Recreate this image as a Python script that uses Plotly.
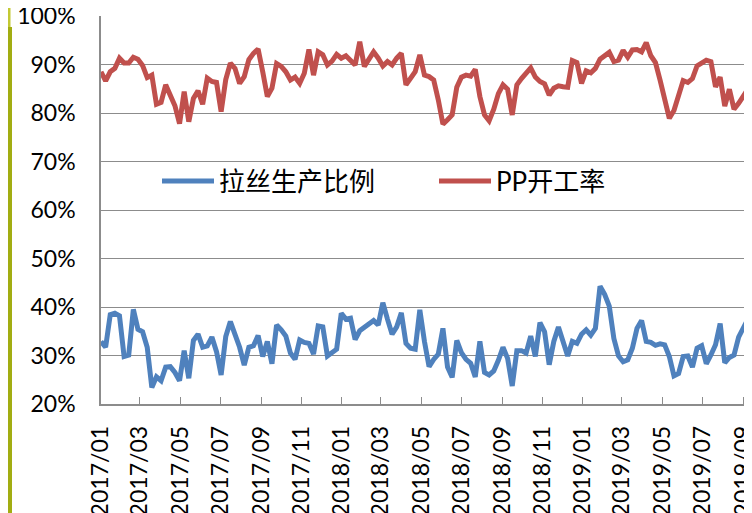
import pandas as pd
import plotly.graph_objects as go

# weekly observation dates (category axis)
dates = pd.date_range("2017-01-01", periods=142, freq="7D")

series_names = ["拉丝生产比例", "PP开工率"]

lasi_ratio = [
    32.9, 31.7, 38.4, 38.7, 38.2, 29.8, 30.1, 39.5, 35.4, 34.9,
    31.7, 23.4, 25.6, 24.8, 27.6, 27.7, 26.5, 24.8, 31.0, 25.3,
    33.1, 34.4, 31.7, 32.0, 33.8, 30.8, 26.0, 33.9, 37.0, 34.2,
    31.7, 28.0, 31.7, 32.0, 34.1, 29.8, 32.9, 28.3, 36.3, 35.3,
    34.0, 30.5, 29.2, 33.2, 32.7, 32.5, 30.3, 36.1, 35.9, 29.9,
    30.6, 31.3, 38.7, 37.5, 37.7, 33.3, 35.1, 35.9, 36.5, 37.2,
    36.3, 40.9, 37.5, 34.4, 35.9, 38.8, 32.5, 31.5, 31.3, 39.4,
    32.9, 27.7, 29.2, 30.3, 35.6, 27.6, 25.5, 33.1, 30.6, 29.2,
    28.4, 25.6, 32.9, 26.5, 26.0, 26.8, 29.0, 31.7, 29.4, 23.7,
    31.0, 31.0, 30.5, 34.0, 29.8, 36.8, 34.9, 28.1, 32.9, 35.9,
    32.9, 29.9, 32.9, 32.5, 34.4, 35.3, 34.2, 35.6, 44.3, 42.6,
    40.2, 33.5, 29.9, 28.7, 29.1, 31.5, 35.6, 37.2, 32.9, 32.7,
    32.1, 32.4, 32.2, 29.8, 25.8, 26.3, 29.8, 29.9, 27.6, 31.5,
    32.0, 28.3, 30.1, 32.2, 36.6, 28.5, 29.6, 30.1, 33.8, 35.8,
    37.5, 21.5,
]

pp_rate = [
    88.5, 86.6, 88.5, 89.2, 91.3, 90.3, 90.3, 91.5, 91.1, 89.8,
    87.3, 87.8, 81.8, 82.2, 85.8, 83.4, 81.5, 77.8, 84.4, 78.2,
    83.0, 84.6, 81.8, 87.2, 86.5, 86.3, 80.3, 86.9, 90.3, 89.2,
    86.1, 87.5, 91.0, 92.3, 93.2, 88.5, 83.4, 85.1, 90.2, 89.6,
    88.5, 86.8, 87.4, 86.1, 88.2, 93.1, 87.8, 92.6, 92.0, 89.9,
    90.7, 92.1, 91.3, 91.8, 90.8, 89.9, 94.7, 89.6, 91.1, 92.6,
    91.3, 89.7, 90.6, 89.9, 91.3, 92.3, 85.8, 87.1, 88.5, 92.0,
    87.8, 87.5, 86.8, 82.7, 77.7, 78.6, 79.6, 85.3, 87.4, 87.8,
    87.6, 89.0, 83.4, 79.6, 78.4, 80.8, 84.0, 85.8, 84.9, 79.6,
    85.8, 87.1, 88.2, 89.3, 87.4, 86.5, 86.0, 83.7, 85.1, 85.6,
    85.4, 85.3, 90.8, 90.4, 86.1, 88.7, 88.3, 89.2, 91.1, 91.8,
    92.5, 90.6, 90.9, 92.9, 91.5, 93.0, 93.1, 92.6, 94.5, 91.8,
    90.4, 86.8, 82.7, 78.9, 80.5, 83.4, 86.7, 86.3, 87.1, 89.7,
    90.2, 90.9, 90.6, 85.4, 87.4, 81.4, 84.9, 80.8, 82.0, 83.4,
    84.9, 76.5,
]

y_ticks = [20, 30, 40, 50, 60, 70, 80, 90, 100]
y_tick_text = ["20%", "30%", "40%", "50%", "60%", "70%", "80%", "90%", "100%"]

# the page body adds an 8px margin around the figure
OFF = 8
W, H = 752, 513
PLOT_L, PLOT_T, PLOT_R, PLOT_B = 101, 16, 752, 404   # plot area in page pixels
ML, MT = PLOT_L - OFF, PLOT_T - OFF
MR = W - (PLOT_R - OFF)
MB = H - (PLOT_B - OFF)
PW, PH = PLOT_R - PLOT_L, PLOT_B - PLOT_T


def px_x(px):
    return (px - PLOT_L) / PW


def px_y(py):
    return (PLOT_B - py) / PH


fig = go.Figure()
fig.add_trace(go.Scatter(x=dates, y=lasi_ratio, name=series_names[0], mode="lines",
                         line=dict(color="#4F81BD", width=5)))
fig.add_trace(go.Scatter(x=dates, y=pp_rate, name=series_names[1], mode="lines",
                         line=dict(color="#C0504D", width=5)))

tick_font = dict(family="Lato, 'Noto Sans', sans-serif", size=23, color="#000000")

fig.update_layout(
    width=W, height=H,
    margin=dict(l=ML, r=MR, t=MT, b=MB, pad=0),
    paper_bgcolor="white", plot_bgcolor="white",
    showlegend=True,
    legend=dict(
        orientation="h", x=px_x(157), y=px_y(181), xanchor="left", yanchor="middle",
        font=dict(family="Lato, 'Noto Sans CJK SC', sans-serif", size=26, color="#000000"),
        bgcolor="rgba(0,0,0,0)", entrywidth=210, entrywidthmode="pixels",
        itemwidth=52, traceorder="normal",
    ),
    xaxis=dict(
        type="date", automargin=False,
        range=["2017-01-01", "2019-09-14 06:00"],
        tick0="2017-01-01", dtick="M2", tickformat="%Y/%m",
        tickangle=-90, tickfont=tick_font, ticklabeloverflow="allow",
        ticks="inside", ticklen=7, tickwidth=1.3, tickcolor="#8c8c8c",
        showline=True, linecolor="#8c8c8c", linewidth=1.5,
        showgrid=False, zeroline=False, ticklabelstandoff=11,
    ),
    yaxis=dict(
        automargin=False,
        range=[20, 100], tickvals=y_ticks, ticktext=y_tick_text,
        tickfont=tick_font, ticks="", showline=True, linecolor="#8c8c8c", linewidth=1.5,
        showgrid=True, gridcolor="#8c8c8c", gridwidth=1.3, zeroline=False,
        ticklabelstandoff=19, ticklabeloverflow="allow",
    ),
    shapes=[
        dict(type="rect", xref="paper", yref="paper", x0=px_x(OFF), x1=px_x(OFF + 2.5),
             y0=px_y(27), y1=px_y(OFF), fillcolor="#c3c934", line=dict(width=0), layer="above"),
        dict(type="rect", xref="paper", yref="paper", x0=px_x(OFF), x1=px_x(OFF + 4),
             y0=px_y(OFF + H), y1=px_y(27), fillcolor="#a2ad12", line=dict(width=0), layer="above"),
    ],
)

fig.write_html("out.html")
